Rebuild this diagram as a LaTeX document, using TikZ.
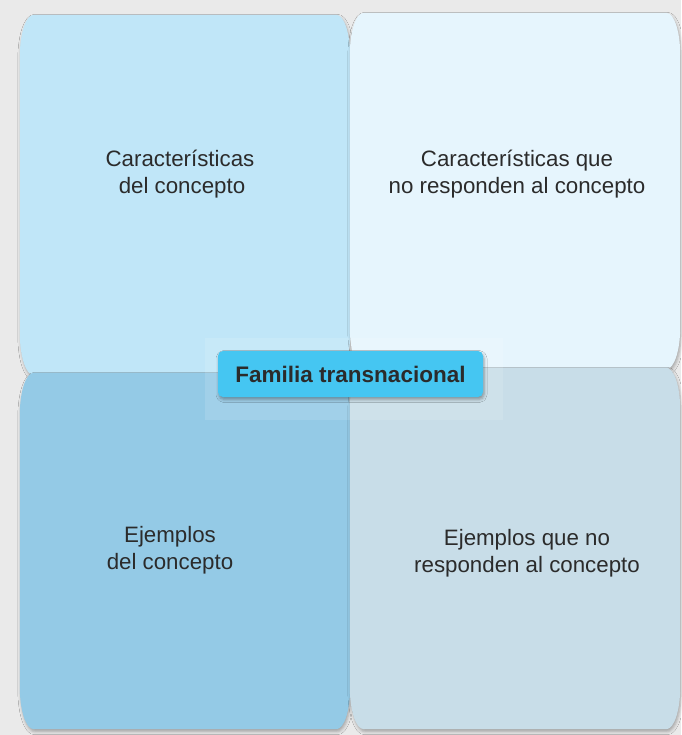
\documentclass[tikz,border=0pt]{standalone}
\usepackage{fontspec}
\setmainfont{Liberation Sans}
\usetikzlibrary{calc,shadows.blur}

\definecolor{pagegray}{HTML}{EAEAEA}
\definecolor{charblue}{HTML}{C0E6F8}
\definecolor{nocharblue}{HTML}{E6F5FD}
\definecolor{exblue}{HTML}{94CAE6}
\definecolor{noexblue}{HTML}{C8DDE8}
\definecolor{tagblue}{HTML}{45C6F2}
\definecolor{inkgray}{HTML}{2B2B2B}

% box with flattened (elliptic) corners round a named node
\newcommand{\quadfill}[2]{%
  \fill[#2, quadshadow]
    ($(#1.north west)+(0,42)$) .. controls +(0,-23) and +(-8,0) .. ($(#1.north west)+(14,0)$)
    -- ($(#1.north east)+(-14,0)$) .. controls +(8,0) and +(0,-23) .. ($(#1.north east)+(0,42)$)
    -- ($(#1.south east)+(0,-42)$) .. controls +(0,23) and +(8,0) .. ($(#1.south east)+(-14,0)$)
    -- ($(#1.south west)+(14,0)$) .. controls +(-8,0) and +(0,23) .. ($(#1.south west)+(0,-42)$)
    -- cycle;}

\begin{document}
\begin{tikzpicture}[
  x=1pt, y=-1pt,
  font=\fontsize{22.3}{27}\selectfont,
  quad/.style={minimum width=330pt, inner sep=0pt},
  quadtext/.style={align=center, text=inkgray, inner sep=0pt},
  quadshadow/.style={blur shadow={shadow xshift=1pt, shadow yshift=-2.5pt,
                     shadow blur radius=3pt, shadow opacity=30}},
  tag/.style={fill=tagblue, rounded corners=5pt, minimum width=265pt, minimum height=46pt,
              inner sep=0pt, text=inkgray, font=\fontsize{22.5}{26}\bfseries\selectfont,
              blur shadow={shadow xshift=1pt, shadow yshift=-2.5pt,
                           shadow blur radius=3pt, shadow opacity=35}},
]

\useasboundingbox (0,0) rectangle (681,735);
\fill[pagegray] (0,0) rectangle (681,735);

% --- Quadrants ---
\node[quad, minimum height=360pt] (chars) at (185,195) {};
\node[quad, minimum height=356pt] (nochars) at (515,191) {};
\node[quad, minimum height=356pt] (examples) at (185,551) {};
\node[quad, minimum height=361pt] (noexamples) at (515,548.5) {};

\quadfill{chars}{charblue}
\quadfill{nochars}{nocharblue}
\quadfill{examples}{exblue}
\quadfill{noexamples}{noexblue}

% --- Quadrant texts ---
\node[quadtext] (charstxt) at (180,174) {Características\\\hspace*{4pt}del concepto};
\node[quadtext] (nocharstxt) at (517,174) {Características que\\no responden al concepto};
\node[quadtext] (examplestxt) at (170,550) {Ejemplos\\del concepto};
\node[quadtext] (noexamplestxt) at (527,553) {Ejemplos que no\\responden al concepto};

% --- Central concept ---
\fill[white, opacity=0.12] (205,338) rectangle (503,420);
\node[tag] (concept) at (350.5,374) {Familia transnacional};

\end{tikzpicture}
\end{document}
